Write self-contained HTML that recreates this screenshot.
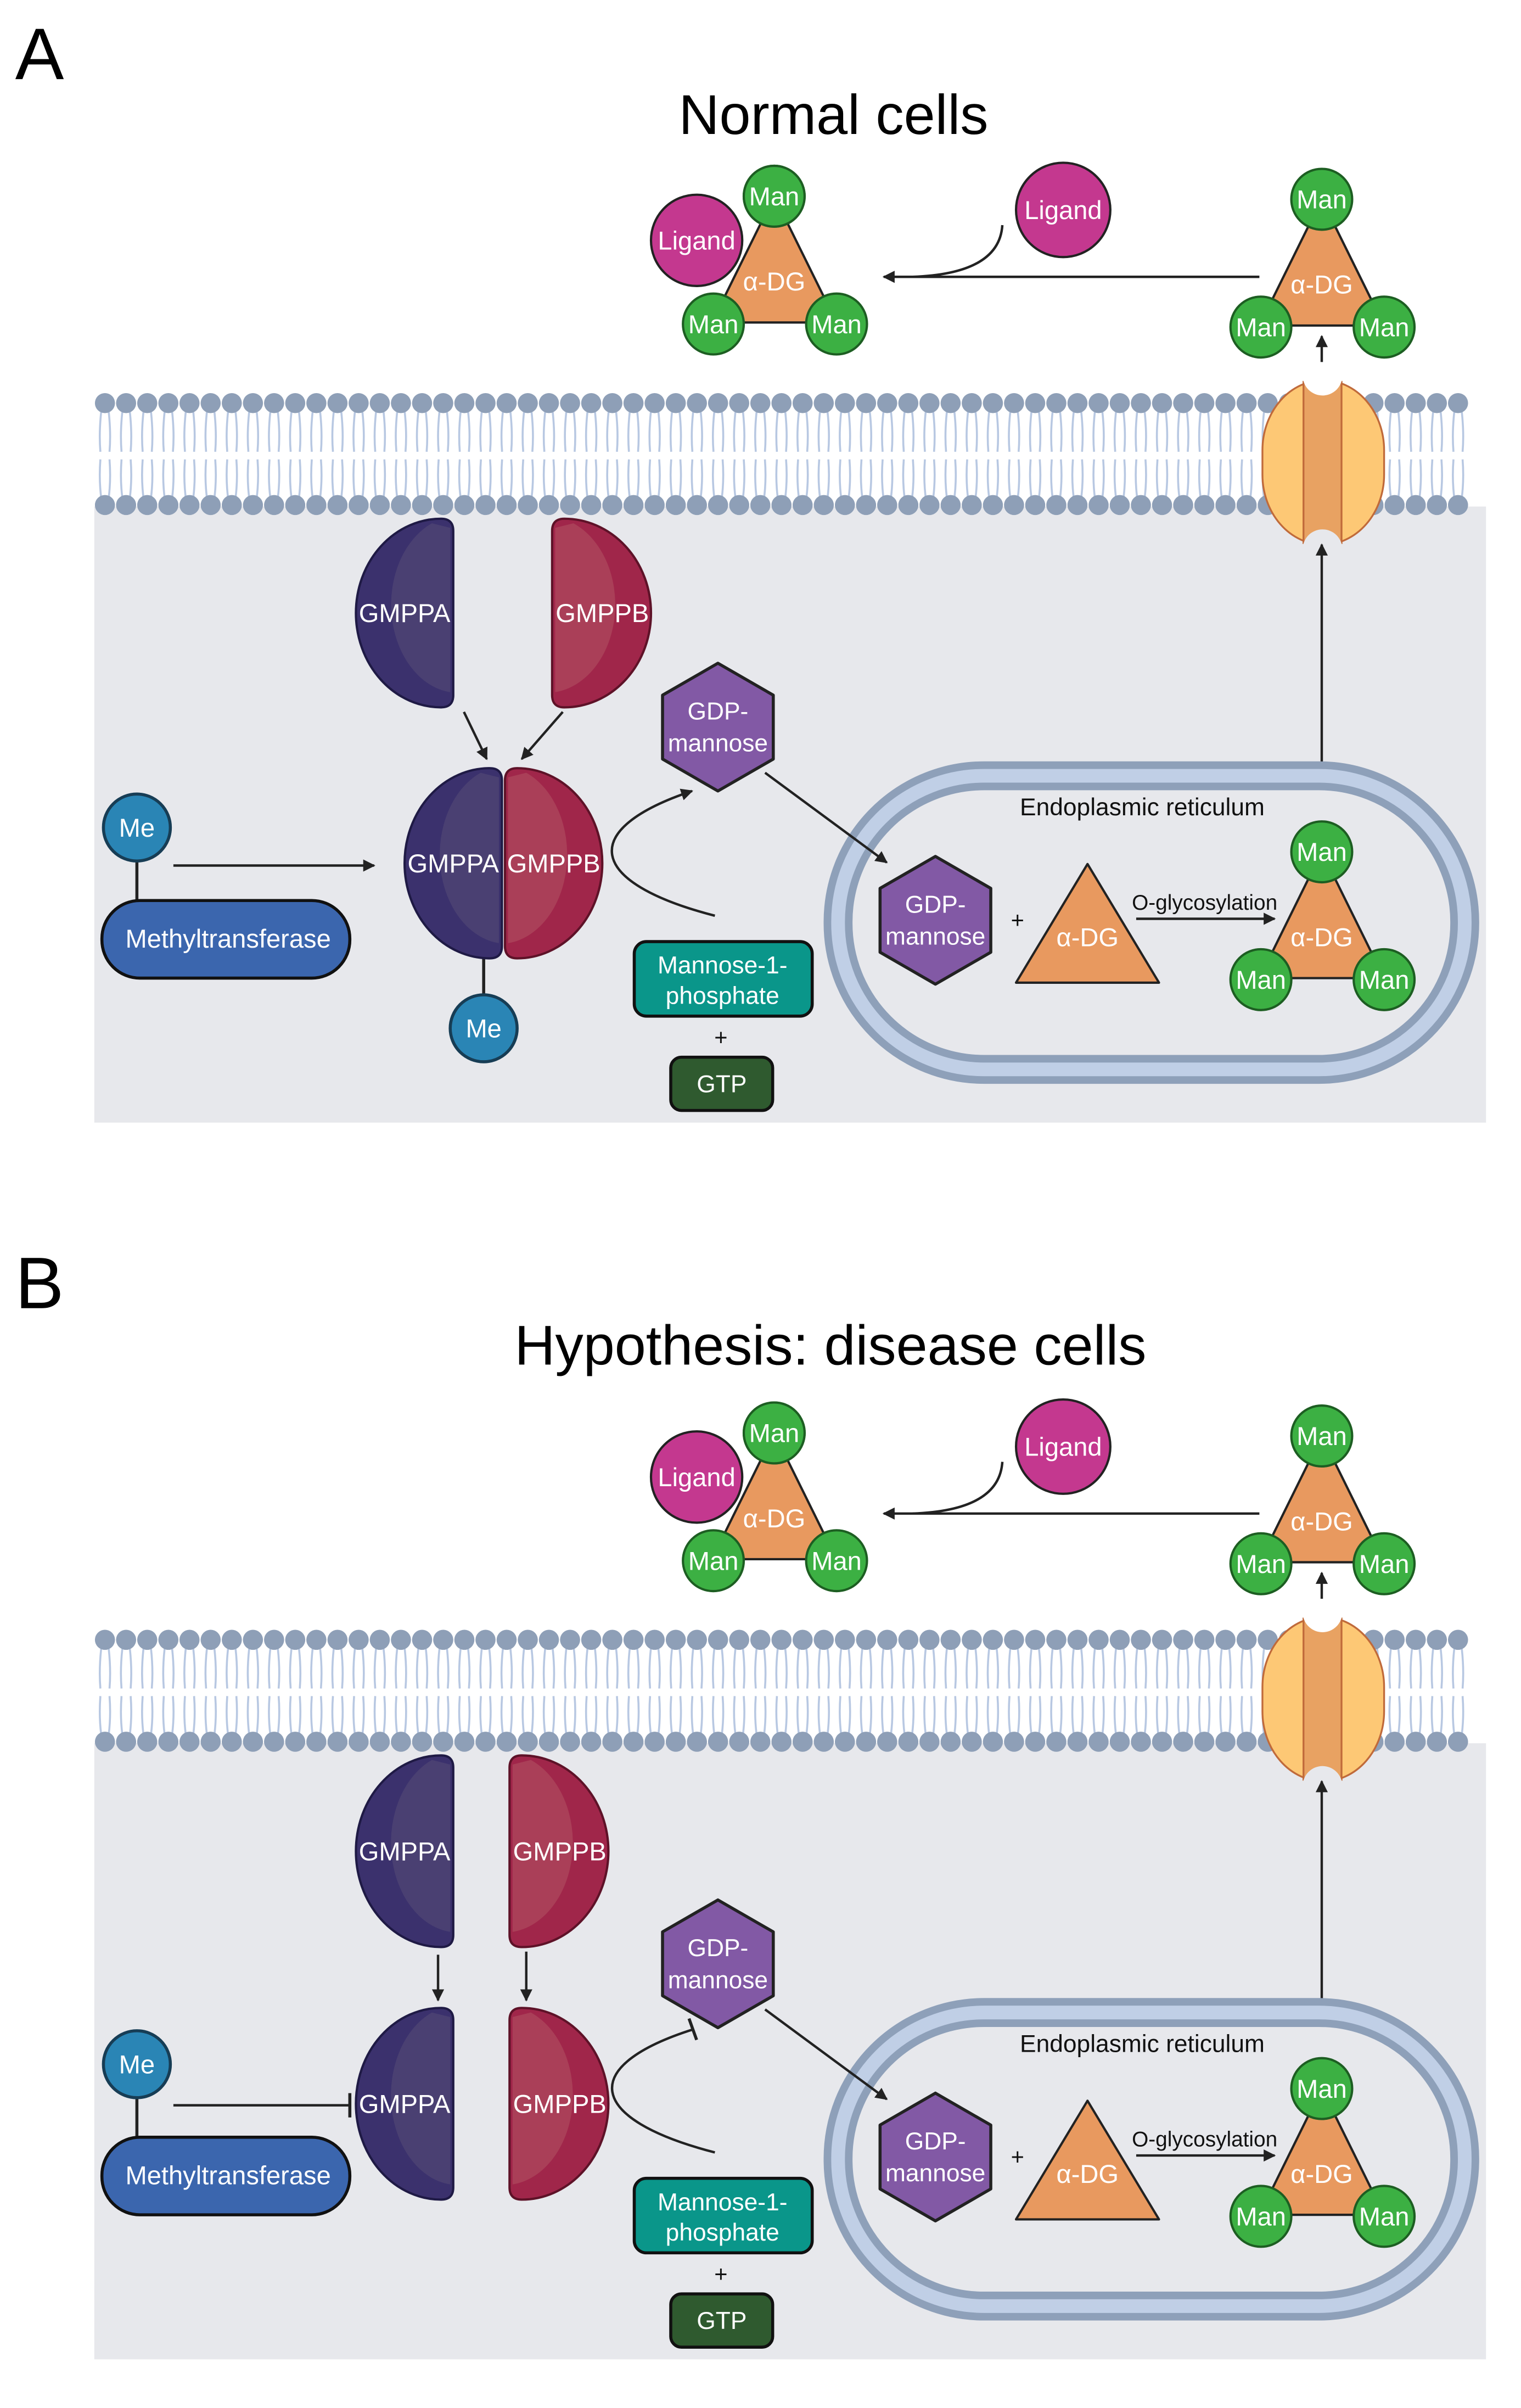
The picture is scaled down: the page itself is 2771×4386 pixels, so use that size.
<!DOCTYPE html>
<html><head><meta charset="utf-8">
<style>html,body{margin:0;padding:0;background:#fff;}svg{display:block;}</style>
</head><body>
<svg id="s" xmlns="http://www.w3.org/2000/svg" width="2771" height="4386" viewBox="0 0 1000 1583" preserveAspectRatio="none" font-family="'Liberation Sans', sans-serif">
<defs>
<marker id="ar" viewBox="0 0 10 10" refX="9" refY="5" markerWidth="5" markerHeight="5" orient="auto"><path d="M0,0L10,5L0,10z" fill="#222"/></marker>
</defs>
<rect width="1000" height="1583" fill="#fff"/>
<text x="10" y="52" font-size="48" fill="#000">A</text>
<text x="548" y="88" font-size="37" text-anchor="middle" fill="#000">Normal cells</text>
<text x="10" y="860" font-size="48" fill="#000">B</text>
<text x="546" y="897" font-size="37" text-anchor="middle" fill="#000">Hypothesis: disease cells</text>
<g id="gA"></g>
<g id="gB"></g>
</svg>
<script>
function man(x,y){return `<circle cx="${x}" cy="${y}" r="20" fill="#3cb043" stroke="#1d5e22" stroke-width="1.5"/><text x="${x}" y="${y+6}" font-size="17" fill="#fff" text-anchor="middle">Man</text>`;}
function triMan(x,y){
 return `<polygon points="${x},${y} ${x-41},${y+83} ${x+41},${y+83}" fill="#e8995f" stroke="#222" stroke-width="1.5" stroke-linejoin="round"/>
 <text x="${x}" y="${y+62}" font-size="17" fill="#fff" text-anchor="middle">α-DG</text>`+man(x,y)+man(x-40,y+84)+man(x+41,y+84);}
function hex(cx,cy){let r=42,p=[];for(let i=0;i<6;i++){let a=Math.PI/180*(60*i-90);p.push((cx+r*Math.cos(a)).toFixed(1)+','+(cy+r*Math.sin(a)).toFixed(1));}
 return `<polygon points="${p.join(' ')}" fill="#8259a5" stroke="#222" stroke-width="2" stroke-linejoin="round"/><text x="${cx}" y="${cy-5}" font-size="16" fill="#fff" text-anchor="middle">GDP-</text><text x="${cx}" y="${cy+16}" font-size="16" fill="#fff" text-anchor="middle">mannose</text>`;}
function halfL(fx,y0,y1,w,lab,lx){let h=(y1-y0)/2;
 return `<path d="M${fx},${y0+8} L${fx},${y1-8} Q${fx},${y1} ${fx-8},${y1} A${w},${h} 0 0 1 ${fx-8},${y0} Q${fx},${y0} ${fx},${y0+8}Z" fill="#3b316d" stroke="#1f1a45" stroke-width="1.5"/>
 <path d="M${fx-2},${y0+6} L${fx-2},${y1-10} A${w-12},${h-4} 0 0 1 ${fx-14},${y0+3}Z" fill="#4a4072"/>
 <text x="${lx}" y="${(y0+y1)/2+6}" font-size="17" fill="#fff" text-anchor="middle">${lab}</text>`;}
function halfR(fx,y0,y1,w,lab,lx){let h=(y1-y0)/2;
 return `<path d="M${fx},${y0+8} L${fx},${y1-8} Q${fx},${y1} ${fx+8},${y1} A${w},${h} 0 0 0 ${fx+8},${y0} Q${fx},${y0} ${fx},${y0+8}Z" fill="#a0264a" stroke="#5e1228" stroke-width="1.5"/>
 <path d="M${fx+2},${y0+6} L${fx+2},${y1-10} A${w-12},${h-4} 0 0 0 ${fx+14},${y0+3}Z" fill="#aa3f58"/>
 <text x="${lx}" y="${(y0+y1)/2+6}" font-size="17" fill="#fff" text-anchor="middle">${lab}</text>`;}
function me(x,y){return `<circle cx="${x}" cy="${y}" r="22" fill="#2a85b5" stroke="#173d55" stroke-width="2"/><text x="${x}" y="${y+6}" font-size="17" fill="#fff" text-anchor="middle">Me</text>`;}
function panel(o,B){
 let s='';
 s+=`<rect x="62" y="${o+333}" width="915" height="${405}" fill="#e7e8ec"/>`;
 let t='';
 for(let x=69;x<=972;x+=13.9){
  t+=`M${x-2.5},${o+271} Q${x-4},${o+285} ${x-3},${o+297} M${x+2.5},${o+271} Q${x+4},${o+285} ${x+3},${o+297} M${x-3},${o+302} Q${x-4},${o+315} ${x-2.5},${o+327} M${x+3},${o+302} Q${x+4},${o+315} ${x+2.5},${o+327} `;
 }
 s+=`<path d="${t}" fill="none" stroke="#b8c8e2" stroke-width="1.3"/>`;
 for(let x=69;x<=972;x+=13.9){s+=`<circle cx="${x.toFixed(1)}" cy="${o+265}" r="6.6" fill="#8e9fb7"/><circle cx="${x.toFixed(1)}" cy="${o+332}" r="6.6" fill="#8e9fb7"/>`;}
 s+=`<rect x="830" y="${o+250}" width="80" height="108" rx="40" ry="46" fill="#fdc875" stroke="#c06a3a" stroke-width="1.2"/>
 <rect x="857" y="${o+251}" width="25" height="106" fill="#e8a262" stroke="#c06a3a" stroke-width="1.2"/>
 <circle cx="869.5" cy="${o+247}" r="13" fill="#fff"/><circle cx="869.5" cy="${o+361}" r="13" fill="#e7e8ec"/>`;
 s+=triMan(509,o+129);
 s+=`<circle cx="458" cy="${o+158}" r="30" fill="#c4388f" stroke="#222" stroke-width="1.5"/><text x="458" y="${o+164}" font-size="17" fill="#fff" text-anchor="middle">Ligand</text>`;
 s+=man(509,o+129);
 s+=`<circle cx="699" cy="${o+138}" r="31" fill="#c4388f" stroke="#222" stroke-width="1.5"/><text x="699" y="${o+144}" font-size="17" fill="#fff" text-anchor="middle">Ligand</text>`;
 s+=`<line x1="828" y1="${o+182}" x2="581" y2="${o+182}" stroke="#222" stroke-width="1.6" marker-end="url(#ar)"/>
 <path d="M659,${o+148} Q657,${o+180} 600,${o+182}" fill="none" stroke="#222" stroke-width="1.6"/>`;
 s+=triMan(869,o+131);
 s+=`<line x1="869" y1="${o+238}" x2="869" y2="${o+221}" stroke="#222" stroke-width="1.6" marker-end="url(#ar)"/>`;
 s+=`<line x1="869" y1="${o+505}" x2="869" y2="${o+358}" stroke="#222" stroke-width="1.6" marker-end="url(#ar)"/>`;
 s+=`<rect x="551" y="${o+510}" width="412" height="193" rx="96" fill="none" stroke="#8ea0b9" stroke-width="19"/>
 <rect x="551" y="${o+510}" width="412" height="193" rx="96" fill="none" stroke="#c0cfe6" stroke-width="9"/>
 <text x="751" y="${o+536}" font-size="16" fill="#111" text-anchor="middle">Endoplasmic reticulum</text>`;
 s+=hex(615,o+605);
 s+=`<text x="669" y="${o+610}" font-size="15" fill="#111" text-anchor="middle">+</text>
 <polygon points="715,${o+568} 668,${o+646} 762,${o+646}" fill="#e8995f" stroke="#222" stroke-width="1.5" stroke-linejoin="round"/>
 <text x="715" y="${o+622}" font-size="17" fill="#fff" text-anchor="middle">α-DG</text>
 <text x="792" y="${o+598}" font-size="14" fill="#111" text-anchor="middle">O-glycosylation</text>
 <line x1="747" y1="${o+604}" x2="838" y2="${o+604}" stroke="#222" stroke-width="1.6" marker-end="url(#ar)"/>`;
 s+=triMan(869,o+560);
 s+=hex(472,o+478);
 s+=`<line x1="503" y1="${o+508}" x2="583" y2="${o+567}" stroke="#222" stroke-width="1.6" marker-end="url(#ar)"/>`;
 s+=`<rect x="417" y="${o+619}" width="117" height="49" rx="8" fill="#0a968a" stroke="#111" stroke-width="2"/>
 <text x="475" y="${o+640}" font-size="16" fill="#fff" text-anchor="middle">Mannose-1-</text>
 <text x="475" y="${o+660}" font-size="16" fill="#fff" text-anchor="middle">phosphate</text>
 <text x="474" y="${o+687}" font-size="15" fill="#111" text-anchor="middle">+</text>
 <rect x="441" y="${o+695}" width="67" height="35" rx="7" fill="#2f5a2f" stroke="#111" stroke-width="2"/>
 <text x="474.5" y="${o+718}" font-size="16" fill="#fff" text-anchor="middle">GTP</text>`;
 s+=`<line x1="90" y1="${o+566}" x2="90" y2="${o+592}" stroke="#222" stroke-width="2"/>`+me(90,o+544);
 s+=`<rect x="67" y="${o+592}" width="163" height="51" rx="25" fill="#3b66ae" stroke="#111" stroke-width="2"/><text x="150" y="${o+623}" font-size="17" fill="#fff" text-anchor="middle">Methyltransferase</text>`;
 if(!B){
  s+=halfL(298,o+341,o+465,56,'GMPPA',266)+halfR(363,o+341,o+465,57,'GMPPB',396);
  s+=`<line x1="305" y1="${o+468}" x2="320" y2="${o+499}" stroke="#222" stroke-width="1.6" marker-end="url(#ar)"/>
  <line x1="370" y1="${o+468}" x2="343" y2="${o+499}" stroke="#222" stroke-width="1.6" marker-end="url(#ar)"/>`;
  s+=`<line x1="318" y1="${o+628}" x2="318" y2="${o+655}" stroke="#222" stroke-width="2"/>`+me(318,o+676);
  s+=halfL(330,o+505,o+630,56,'GMPPA',298)+halfR(332,o+505,o+630,56,'GMPPB',364);
  s+=`<line x1="114" y1="${o+569}" x2="246" y2="${o+569}" stroke="#222" stroke-width="1.6" marker-end="url(#ar)"/>`;
  s+=`<path d="M470,${o+602} C385,${o+580} 380,${o+545} 455,${o+520}" fill="none" stroke="#222" stroke-width="1.6" marker-end="url(#ar)"/>`;
 } else {
  s+=halfL(298,o+341,o+467,56,'GMPPA',266)+halfR(335,o+341,o+467,57,'GMPPB',368);
  s+=`<line x1="288" y1="${o+472}" x2="288" y2="${o+502}" stroke="#222" stroke-width="1.6" marker-end="url(#ar)"/>
  <line x1="346" y1="${o+470}" x2="346" y2="${o+502}" stroke="#222" stroke-width="1.6" marker-end="url(#ar)"/>`;
  s+=halfL(298,o+507,o+633,56,'GMPPA',266)+halfR(335,o+507,o+633,57,'GMPPB',368);
  s+=`<line x1="114" y1="${o+571}" x2="230" y2="${o+571}" stroke="#222" stroke-width="1.6"/><line x1="230" y1="${o+563}" x2="230" y2="${o+579}" stroke="#222" stroke-width="2"/>`;
  s+=`<path d="M470,${o+602} C385,${o+580} 380,${o+545} 456,${o+521}" fill="none" stroke="#222" stroke-width="1.6"/><line x1="453" y1="${o+514}" x2="458" y2="${o+528}" stroke="#222" stroke-width="2"/>`;
 }
 return s;
}
document.getElementById('gA').innerHTML=panel(0,false);
document.getElementById('gB').innerHTML=panel(813,true);
</script>
</body></html>
